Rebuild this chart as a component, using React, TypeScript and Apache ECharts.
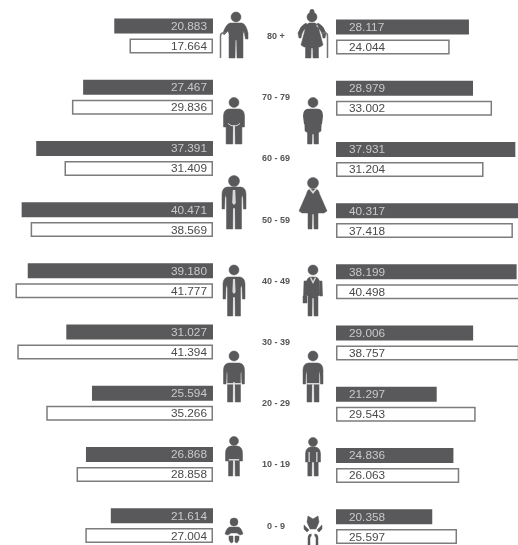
import React, { useEffect, useRef } from "react";
import * as echarts from "echarts";

const ageGroups = ["80 +", "70 - 79", "60 - 69", "50 - 59", "40 - 49", "30 - 39", "20 - 29", "10 - 19", "0 - 9"];
const menDark = [20.883, 27.467, 37.391, 40.471, 39.18, 31.027, 25.594, 26.868, 21.614];
const menOutline = [17.664, 29.836, 31.409, 38.569, 41.777, 41.394, 35.266, 28.858, 27.004];
const womenDark = [28.117, 28.979, 37.931, 40.317, 38.199, 29.006, 21.297, 24.836, 20.358];
const womenOutline = [24.044, 33.002, 31.204, 37.418, 40.498, 38.757, 29.543, 26.063, 25.597];

const INK = "#59595b";
const OUTLINE = "#7c7c7e";

const head = (cx: number, cy: number, r: number) =>
  `M${cx - r} ${cy}a${r} ${r} 0 1 0 ${2 * r} 0a${r} ${r} 0 1 0 ${-2 * r} 0Z`;

// standing figure: shoulders, arms and two legs, mirrored around cx
const man = (cx: number, top: number, bot: number, hw: number, lw: number, armEnd: number, crotch: number) => {
  const a = hw - 2.6;
  const s = top + 8;
  return (
    `M${cx - hw + 5} ${top}L${cx + hw - 5} ${top}Q${cx + hw} ${top + 1} ${cx + hw} ${top + 7}` +
    `L${cx + hw} ${armEnd}L${cx + a} ${armEnd}L${cx + a - 0.5} ${s}L${cx + lw} ${s + 3}L${cx + lw} ${bot}L${cx + 1.2} ${bot}` +
    `L${cx + 1} ${crotch}L${cx - 1} ${crotch}L${cx - 1.2} ${bot}L${cx - lw} ${bot}L${cx - lw} ${s + 3}` +
    `L${cx - a + 0.5} ${s}L${cx - a} ${armEnd}L${cx - hw} ${armEnd}L${cx - hw} ${top + 7}Q${cx - hw} ${top + 1} ${cx - hw + 5} ${top}Z`
  );
};

// figure with skirt or dress: hem width hw at hemY, two legs below
const woman = (cx: number, top: number, bot: number, sw: number, hw: number, hemY: number, lw: number) =>
  `M${cx - sw + 3} ${top}L${cx + sw - 3} ${top}Q${cx + sw} ${top + 1} ${cx + sw + 0.5} ${top + 5}` +
  `L${cx + hw} ${hemY - 2}L${cx + hw - 3} ${hemY}L${cx + lw} ${hemY}L${cx + lw} ${bot}L${cx + 1} ${bot}L${cx + 0.8} ${hemY + 1}` +
  `L${cx - 0.8} ${hemY + 1}L${cx - 1} ${bot}L${cx - lw} ${bot}L${cx - lw} ${hemY}L${cx - hw + 3} ${hemY}L${cx - hw} ${hemY - 2}` +
  `L${cx - sw - 0.5} ${top + 5}Q${cx - sw} ${top + 1} ${cx - sw + 3} ${top}Z`;

const inkPaths = [
  // 80 +
  head(236, 17, 5),
  "M230 23L242 23Q246 24 248 33L248 39L245.5 39L244 31L243 34L243 58L237 58L236.6 40L235.4 40L235 58L229 58L229 34L228 31L224 35L223 33Q226 24 230 23Z",
  head(312, 17, 5), head(312, 11.5, 2.2), woman(312, 23, 58, 6, 11, 47, 6.5),
  "M299 38L298 33Q301 25 306 23L308 26Q302 30 301 38Z", "M325 38L326 33Q323 25 318 23L316 26Q322 30 323 38Z",
  // 70 - 79
  head(234, 102.5, 5), man(234, 109, 144, 10.5, 7.9, 127, 125),
  head(313, 102.5, 5), woman(313, 109, 144, 8, 8, 133, 5.5),
  // 50 - 59
  head(234, 181, 5.5), man(234, 187, 229, 12, 7.5, 209, 208),
  head(313, 183, 5.5), woman(313, 189, 229, 6, 14, 213, 5),
  // 40 - 49
  head(234, 270, 5), man(234, 277, 316, 11, 6.5, 299, 297),
  head(313, 270, 5), woman(313, 277, 316, 6, 7, 297, 5), "M304 281L307 281L306 296L303.5 296Z", "M322 281L319 281L320 296L322.5 296Z", "M303 296L307 296L307 303L303 303Z",
  // 30 - 39
  head(234, 356, 5), man(234, 363, 402, 10.5, 6.5, 384, 382),
  head(313, 356, 5), man(313, 363, 402, 10, 6, 384, 384),
  // 10 - 19
  head(234, 441, 4.5), man(234, 446, 476, 8.5, 5.5, 461, 460),
  head(313, 442, 4.5), man(313, 447, 476, 7.5, 5.2, 462, 462),
  // 0 - 9
  head(234, 522, 4), "M230 527L238 527Q241 527 243 534L240 535L237 533L231 533L228 535L225 534Q227 527 230 527Z",
  "M229 536L233 536L233 542L231 543L229 540Z", "M235 536L239 536L239 540L237 543L235 542Z",
  "M308 516L313 519L318 516L319 522L316 529L310 529L307 522Z",
  "M304 525L309 530L307 532L304 529Z", "M322 525L317 530L319 532L322 529Z",
];
// the 70 - 79 woman's folded arms are drawn over her dress, as a separate fill
const ARMS_70 = "M303 116Q303 110 307 109L319 109Q323 110 323 116L322 124L318 126L308 126L304 124Z";
const cutPaths = [
  "M232.8 190L235.2 190L235.8 203L234 205L232.2 203Z", // tie 50 - 59
  "M309 189L313 194L317 189L316 188L313 191L310 188Z",
  "M233 279L235 279L235.6 292L234 294L232.4 292Z", // tie 40 - 49
  "M310 278L313 284L316 278L315 277L313 281L311 277Z",
  "M226 383L242 383L242 384.5L226 384.5Z", "M306 383L320 383L320 384.5L306 384.5Z", // belts 30 - 39
  "M229 459L239 459L239 460.5L229 460.5Z", "M308.5 452L309.8 452L309.8 462L308.5 462Z", "M316.2 452L317.5 452L317.5 462L316.2 462Z",
  "M228 123Q234 128 240 123L240 124Q234 129 228 124Z",
];
const CANE_LEFT = "M220.5 58L220.5 36Q220.5 33 223 33L226 33";
const CANE_RIGHT = "M327.5 58L327.5 36Q327.5 33 325 33L322 33";
const LEG_ARCS = "M309 545L309 538Q309 535 311.5 535M317 545L317 538Q317 535 314.5 535";

echarts.graphic.registerShape("figuresInk", echarts.graphic.extendPath(inkPaths.join(""), {}));
echarts.graphic.registerShape("figuresArms", echarts.graphic.extendPath(ARMS_70, {}));
echarts.graphic.registerShape("figuresCut", echarts.graphic.extendPath(cutPaths.join(""), {}));
echarts.graphic.registerShape("figuresCane", echarts.graphic.extendPath(CANE_LEFT + CANE_RIGHT, {}));
echarts.graphic.registerShape("figuresLegs", echarts.graphic.extendPath(LEG_ARCS, {}));

const X_MAX = 42.3;
const fmt = (p: any) => Number(p.value).toFixed(3);

const barSeries = (name: string, data: number[], idx: number, dark: boolean, left: boolean) => ({
  name,
  type: "bar",
  xAxisIndex: idx,
  yAxisIndex: idx,
  data,
  barWidth: 15,
  barGap: "33%",
  silent: true,
  itemStyle: dark ? { color: INK } : { color: "#ffffff", borderColor: OUTLINE, borderWidth: 1.5 },
  label: {
    show: true,
    position: left ? "insideRight" : "insideLeft",
    distance: left ? 6 : 13,
    formatter: fmt,
    fontFamily: "Liberation Sans",
    fontSize: 11.8,
    color: dark ? "#c9c9c9" : "#4a4a4a",
  },
});

export default function App() {
  const ref = useRef<HTMLDivElement>(null);
  useEffect(() => {
    document.body.style.margin = "0";
    const chart = echarts.init(ref.current!, null, { renderer: "svg" });
    chart.setOption({
      animation: false,
      backgroundColor: "#ffffff",
      grid: [
        { left: 13, width: 200, top: 5.4, height: 550.8 },
        { left: 336, width: 200, top: 6.4, height: 550.8 },
      ],
      xAxis: [
        { type: "value", gridIndex: 0, min: 0, max: X_MAX, inverse: true, show: false },
        { type: "value", gridIndex: 1, min: 0, max: X_MAX, show: false },
      ],
      yAxis: [
        {
          type: "category",
          gridIndex: 0,
          data: ageGroups,
          inverse: true,
          position: "right",
          axisLine: { show: false },
          axisTick: { show: false },
          axisLabel: {
            margin: 63,
            align: "center",
            fontFamily: "Liberation Sans",
            fontWeight: "bold",
            fontSize: 9,
            color: "#555557",
          },
        },
        { type: "category", gridIndex: 1, data: ageGroups, inverse: true, show: false },
      ],
      series: [
        barSeries("Men dark", menDark, 0, true, true),
        barSeries("Men outline", menOutline, 0, false, true),
        barSeries("Women dark", womenDark, 1, true, false),
        barSeries("Women outline", womenOutline, 1, false, false),
      ],
      graphic: [
        { type: "figuresInk", silent: true, style: { fill: INK, stroke: INK, lineWidth: 0.5, lineJoin: "round" } },
        { type: "figuresArms", silent: true, style: { fill: INK } },
        { type: "figuresCut", silent: true, style: { fill: "#d8d8d8" } },
        { type: "figuresCane", silent: true, style: { fill: "none", stroke: "#747476", lineWidth: 1.5 } },
        { type: "figuresLegs", silent: true, style: { fill: "none", stroke: INK, lineWidth: 2.5 } },
      ],
    });
    return () => chart.dispose();
  }, []);
  return (
    <div style={{ width: 518, height: 545, overflow: "hidden" }}>
      <div ref={ref} style={{ width: 560, height: 570, filter: "blur(0.7px)" }} />
    </div>
  );
}
